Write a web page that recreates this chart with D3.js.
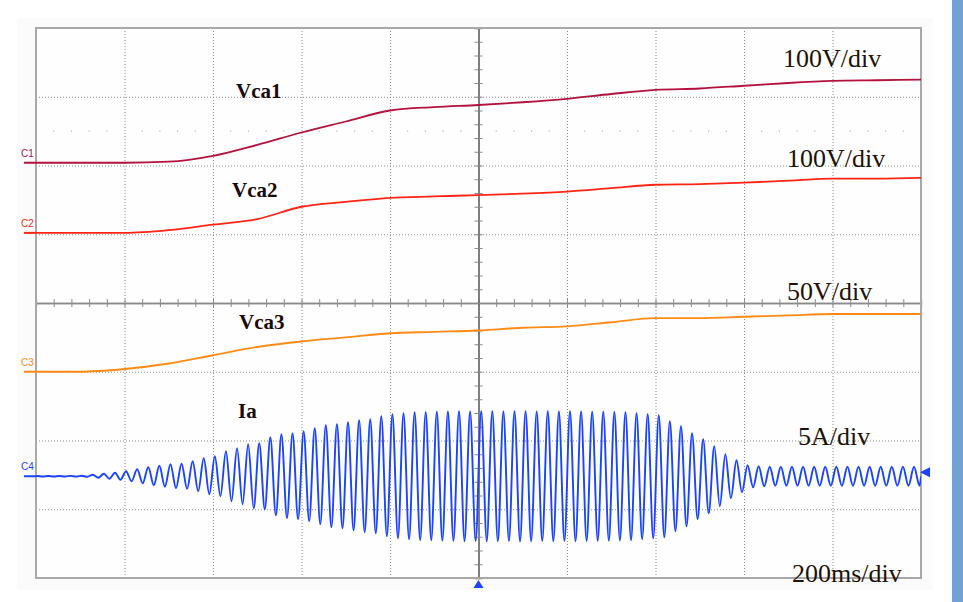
<!DOCTYPE html>
<html lang="en">
<head>
<meta charset="utf-8">
<title>Vca1 Vca2 Vca3 Ia</title>
<script src="https://d3js.org/d3.v7.min.js"></script>
<style>
  body { margin: 0; background: #fff; }
  svg { display: block; }
</style>
</head>
<body>
<script>
// time axis, 200 ms/div, samples every half division
var timeMs = [0, 100, 200, 300, 400, 500, 600, 700, 800, 900, 1000,
              1100, 1200, 1300, 1400, 1500, 1600, 1700, 1800, 1900, 2000];

// capacitor voltages (V)
var vca1 = [0, 0, 0, 1.5, 10, 26, 44, 60, 76, 81, 84, 88, 93, 100, 106, 108, 112, 116, 119, 120, 121];
var vca2 = [0, 0, 0, 4, 12, 20, 38, 45, 51, 53, 55, 57, 60, 65, 70, 71, 73, 76, 79, 79, 80];
var vca3 = [0, 0, 2, 6, 12, 18, 22, 25, 28, 29, 30, 32, 33, 36, 39, 39, 40, 41, 42, 42, 42];

// Ia: peak amplitude (A) of each cycle
var iaPeriodMs = 25.08;
var iaFirstPeakMs = 2.9;
var iaAmp = [
  0.02, 0.02, 0.02, 0.03, 0.04, 0.11, 0.18, 0.25, 0.36, 0.51,
  0.65, 0.76, 0.87, 0.91, 1.09, 1.31, 1.45, 1.82, 2.04, 2.33,
  2.40, 2.84, 3.05, 3.13, 3.27, 3.49, 3.71, 3.78, 3.93, 4.07,
  4.15, 4.36, 4.51, 4.58, 4.65, 4.65, 4.69, 4.71, 4.73, 4.71,
  4.73, 4.73, 4.71, 4.73, 4.73, 4.71, 4.73, 4.71, 4.73, 4.71,
  4.69, 4.69, 4.67, 4.65, 4.58, 4.51, 4.44, 4.00, 3.64, 3.13,
  2.69, 2.18, 1.60, 1.16, 0.80, 0.73, 0.69, 0.69, 0.69, 0.69,
  0.69, 0.69, 0.69, 0.69, 0.69, 0.69, 0.69, 0.69, 0.69, 0.69
];

// channels: name, ground offset (div), scale per div, colour
var channelNames = ["C1", "C2", "C3", "C4"];
var channelOffset = [2.04, 1.02, -1.0, -2.52];
var channelPerDiv = [100, 100, 50, 5];
var channelColor = ["#b3123e", "#ff2414", "#ff8a14", "#1a44ff"];

var traceLabels = ["Vca1", "Vca2", "Vca3", "Ia"];
var scaleLabels = ["100V/div", "100V/div", "50V/div", "5A/div", "200ms/div"];

var width = 963, height = 602;

var svg = d3.select("body").append("svg")
    .attr("width", width)
    .attr("height", height);

var x = d3.scaleLinear().domain([0, 2000]).range([36, 921]);
var yDiv = d3.scaleLinear().domain([-4, 4]).range([578, 28]);

function yCh(i) {
  return function(v) { return yDiv(channelOffset[i] + v / channelPerDiv[i]); };
}

// faint panel + blue side bar
svg.append("rect")
    .attr("x", 17).attr("y", 18).attr("width", 916).attr("height", 572)
    .attr("fill", "#fbfbfb");
svg.append("rect")
    .attr("x", 952).attr("y", 0).attr("width", 11).attr("height", height)
    .attr("fill", "#74a1d3");

svg.append("rect")
    .attr("x", 36).attr("y", 28).attr("width", 885).attr("height", 550)
    .attr("fill", "#fefefe");

// dotted grid
var gridX = d3.range(1, 10).filter(function(d) { return d !== 5; }).map(function(d) { return d * 200; });
var gridY = [-3, -2, -1, 1, 2, 3];

svg.append("g")
    .attr("transform", "translate(0,578)")
    .call(d3.axisBottom(x).tickValues(gridX).tickSize(-550).tickFormat(""))
    .call(function(g) { g.select(".domain").remove(); })
    .selectAll("line")
    .attr("stroke", "#8c8c8c")
    .attr("stroke-dasharray", "1,2");

svg.append("g")
    .attr("transform", "translate(36,0)")
    .call(d3.axisLeft(yDiv).tickValues(gridY).tickSize(-885).tickFormat(""))
    .call(function(g) { g.select(".domain").remove(); })
    .selectAll("line")
    .attr("stroke", "#8c8c8c")
    .attr("stroke-dasharray", "1,2");

// row of dots at 1.5 div in the top panel
var dotT = d3.range(1, 50).filter(function(d) { return d % 5 !== 0; }).map(function(d) { return d * 40; });
svg.append("g").selectAll("rect")
    .data(dotT)
    .enter().append("rect")
    .attr("x", function(d) { return x(d) - 0.5; })
    .attr("y", yDiv(2.5) - 0.5)
    .attr("width", 1).attr("height", 1)
    .attr("fill", "#999");

// center cross with minor ticks
var minorX = d3.range(1, 50).map(function(d) { return d * 40; });
var minorY = d3.range(-19, 20).map(function(d) { return d * 0.2; });

[d3.axisBottom, d3.axisTop].forEach(function(ax) {
  svg.append("g")
      .attr("transform", "translate(0," + yDiv(0) + ")")
      .call(ax(x).tickValues(minorX).tickSize(4).tickFormat(""))
      .call(function(g) { g.select(".domain").attr("stroke", "#8a8a8a").attr("stroke-width", 1.3); })
      .selectAll("line").attr("stroke", "#8a8a8a");
});
[d3.axisLeft, d3.axisRight].forEach(function(ax) {
  svg.append("g")
      .attr("transform", "translate(" + x(1000) + ",0)")
      .call(ax(yDiv).tickValues(minorY).tickSize(4).tickFormat(""))
      .call(function(g) { g.select(".domain").attr("stroke", "#6e6e6e").attr("stroke-width", 1.3); })
      .selectAll("line").attr("stroke", "#8a8a8a");
});

// frame
svg.append("rect")
    .attr("x", 36).attr("y", 28).attr("width", 885).attr("height", 550)
    .attr("fill", "none")
    .attr("stroke", "#a8a8a8")
    .attr("stroke-width", 2);

svg.append("clipPath").attr("id", "clip")
  .append("rect").attr("x", 36).attr("y", 28).attr("width", 885).attr("height", 550);

var plot = svg.append("g").attr("clip-path", "url(#clip)");

// voltage traces
[vca1, vca2, vca3].forEach(function(vals, i) {
  var line = d3.line()
      .x(function(d, j) { return x(timeMs[j]); })
      .y(function(d) { return yCh(i)(d); })
      .curve(d3.curveMonotoneX);
  plot.append("path")
      .datum(vals)
      .attr("fill", "none")
      .attr("stroke", channelColor[i])
      .attr("stroke-width", 1.8)
      .attr("d", line);
});

// Ia trace: one peak and one trough per cycle
var iaPts = [[0, 0]];
iaAmp.forEach(function(a, k) {
  iaPts.push([iaFirstPeakMs + k * iaPeriodMs, a]);
  iaPts.push([iaFirstPeakMs + (k + 0.5) * iaPeriodMs, -a]);
});
iaPts.push([2000, 0]);

plot.append("path")
    .datum(iaPts)
    .attr("fill", "none")
    .attr("stroke", channelColor[3])
    .attr("stroke-width", 1.9)
    .attr("d", d3.line()
        .x(function(d) { return x(d[0]); })
        .y(function(d) { return yCh(3)(d[1]); })
        .curve(d3.curveMonotoneX));

// channel markers on the left
channelNames.forEach(function(name, i) {
  var yy = yCh(i)(0);
  svg.append("line")
      .attr("x1", 24).attr("x2", 36).attr("y1", yy).attr("y2", yy)
      .attr("stroke", channelColor[i]).attr("stroke-width", 2);
  svg.append("text")
      .attr("x", 21).attr("y", yy - 6)
      .attr("fill", channelColor[i])
      .attr("font-family", "Liberation Sans, Arial, sans-serif")
      .attr("font-size", "10px")
      .text(name);
});

// trigger markers
svg.append("path")
    .attr("d", "M" + (x(2000) - 1) + "," + yCh(3)(0.3) + " l10,-5 l0,10 z")
    .attr("fill", channelColor[3]);
svg.append("path")
    .attr("d", "M" + x(1000) + "," + 580 + " l-5,8 l10,0 z")
    .attr("fill", channelColor[3]);

// trace labels
var traceLabelPos = [[236, 98], [232, 197], [239, 329], [238, 418]];
traceLabels.forEach(function(t, i) {
  svg.append("text")
      .attr("x", traceLabelPos[i][0]).attr("y", traceLabelPos[i][1])
      .attr("font-family", "Liberation Serif, Times New Roman, serif")
      .attr("font-weight", "bold")
      .attr("font-size", "21px")
      .attr("fill", "#1a0a0a")
      .text(t);
});

// scale labels
var scaleLabelPos = [[783, 67], [787, 167], [787, 300], [798, 445], [792, 582]];
scaleLabels.forEach(function(t, i) {
  svg.append("text")
      .attr("x", scaleLabelPos[i][0]).attr("y", scaleLabelPos[i][1])
      .attr("font-family", "Liberation Serif, Times New Roman, serif")
      .attr("font-size", "26px")
      .attr("fill", "#1f1208")
      .text(t);
});
</script>
</body>
</html>
